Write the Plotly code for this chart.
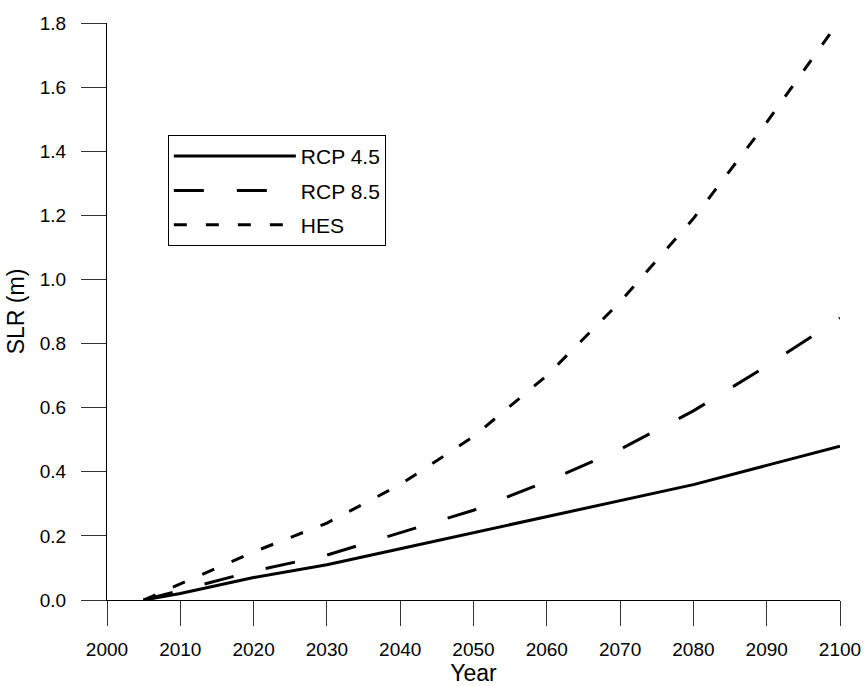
import plotly.graph_objects as go

# Projected sea level rise (m) by year for three scenarios
years = [2005, 2010, 2020, 2030, 2040, 2050, 2060, 2070, 2080, 2090, 2100]
rcp45 = [0.0, 0.02, 0.07, 0.11, 0.16, 0.21, 0.26, 0.31, 0.36, 0.42, 0.48]
rcp85 = [0.0, 0.03, 0.09, 0.14, 0.21, 0.28, 0.37, 0.47, 0.59, 0.73, 0.88]
hes = [0.0, 0.05, 0.15, 0.24, 0.36, 0.51, 0.70, 0.93, 1.19, 1.49, 1.81]

x_ticks = list(range(2000, 2101, 10))
y_ticks = [0.0, 0.2, 0.4, 0.6, 0.8, 1.0, 1.2, 1.4, 1.6, 1.8]

FONT = "Arial, Liberation Sans, sans-serif"

fig = go.Figure()
fig.add_trace(go.Scatter(x=years, y=rcp45, mode="lines", name="RCP 4.5", legendgroup="a",
                         line=dict(color="black", width=3, dash="solid")))
fig.add_trace(go.Scatter(x=years, y=rcp85, mode="lines", name="RCP 8.5", legendgroup="b",
                         line=dict(color="black", width=3, dash="30px,33px")))
fig.add_trace(go.Scatter(x=years, y=hes, mode="lines", name="HES", legendgroup="c",
                         line=dict(color="black", width=3, dash="13px,19px")))

fig.update_layout(
    width=866, height=686,
    margin=dict(l=107, r=26, t=23, b=86, autoexpand=False),
    paper_bgcolor="white", plot_bgcolor="white",
    font=dict(family=FONT, size=19, color="black"),
    showlegend=True,
    legend=dict(
        x=0.083, y=0.806, xanchor="left", yanchor="top",
        bordercolor="black", borderwidth=1, bgcolor="white",
        itemwidth=122, font=dict(size=21, family=FONT),
        tracegroupgap=4,
    ),
    xaxis=dict(
        range=[2000, 2100], tickvals=x_ticks, ticktext=[str(v) for v in x_ticks],
        showgrid=False, zeroline=False, showline=True, linecolor="black", linewidth=1,
        ticks="outside", ticklen=25, tickcolor="#333", tickwidth=1, ticklabelstandoff=7,
        tickfont=dict(size=19), automargin=True,
        title=dict(text="Year", font=dict(size=23), standoff=0),
    ),
    yaxis=dict(
        range=[0, 1.8], tickvals=y_ticks, ticktext=[f"{v:.1f}" for v in y_ticks],
        showgrid=False, zeroline=False, showline=True, linecolor="black", linewidth=1,
        ticks="outside", ticklen=25, tickcolor="#333", tickwidth=1, ticklabelstandoff=11,
        tickfont=dict(size=19), automargin=True,
        title=dict(text="SLR (m)", font=dict(size=23), standoff=8),
    ),
)

fig.write_html("out.html")
